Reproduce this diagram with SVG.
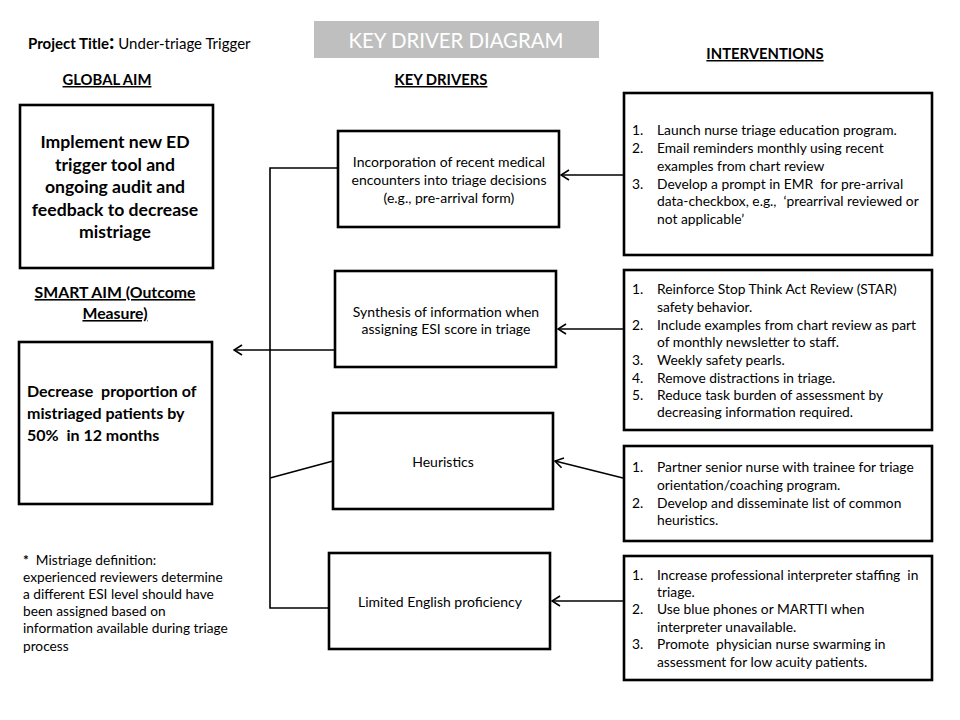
<svg xmlns="http://www.w3.org/2000/svg" width="960" height="720" viewBox="0 0 960 720">
<defs>
<style>
text{font-family:Lato,"Open Sans","Liberation Sans",sans-serif;fill:#000}
.box{fill:#fff;stroke:#000;stroke-width:2.6}
.hdr{font-size:14.8px;font-weight:bold;text-decoration:underline;text-anchor:middle}
.sm{font-size:15.8px;font-weight:bold;text-decoration:underline;text-anchor:middle}
.aim{font-size:17.6px;font-weight:bold;text-anchor:middle}
.smart{font-size:16px;font-weight:bold}
.kd{font-size:14px;text-anchor:middle}
.iv{font-size:13.8px}
.note{font-size:13.7px}
.con{fill:none;stroke:#000;stroke-width:1.6}
</style>
<marker id="ah" viewBox="0 0 10 12" refX="9" refY="6" markerWidth="10" markerHeight="12" markerUnits="userSpaceOnUse" orient="auto">
<path d="M1,1 L9,6 L1,11" fill="none" stroke="#000" stroke-width="1.6"/>
</marker>
</defs>
<rect width="960" height="720" fill="#fff"/>

<g id="header">
<text x="28" y="49" style="font-size:15px" xml:space="preserve"><tspan font-weight="bold">Project Title</tspan><tspan font-weight="bold" font-size="21px">:</tspan> Under-triage Trigger</text>
<rect x="314" y="21" width="285" height="37" fill="#bfbfbf"/>
<text x="456" y="48" style="font-size:20.4px;fill:#fff;text-anchor:middle">KEY DRIVER DIAGRAM</text>
<text class="hdr" x="107" y="85">GLOBAL AIM</text>
<text class="hdr" x="441" y="85">KEY DRIVERS</text>
<text class="hdr" x="765" y="59">INTERVENTIONS</text>
</g>

<g id="global-aim">
<rect class="box" x="20" y="105" width="193" height="163"/>
<text class="aim" x="115" y="148">Implement new ED</text>
<text class="aim" x="115" y="171">trigger tool and</text>
<text class="aim" x="115" y="193">ongoing audit and</text>
<text class="aim" x="115" y="216">feedback to decrease</text>
<text class="aim" x="115" y="238">mistriage</text>
</g>

<g id="smart-aim">
<text class="sm" x="115" y="298">SMART AIM (Outcome</text>
<text class="sm" x="115" y="319">Measure)</text>
<rect class="box" x="19" y="342" width="193" height="162"/>
<text class="smart" x="27" y="397" xml:space="preserve">Decrease  proportion of</text>
<text class="smart" x="27" y="419">mistriaged patients by</text>
<text class="smart" x="27" y="441" xml:space="preserve">50%  in 12 months</text>
</g>

<g id="note">
<text class="note" x="23" y="565" xml:space="preserve"><tspan font-weight="bold">*</tspan>  Mistriage definition:</text>
<text class="note" x="23" y="582">experienced reviewers determine</text>
<text class="note" x="23" y="599">a different ESI level should have</text>
<text class="note" x="23" y="616">been assigned based on</text>
<text class="note" x="23" y="633">information available during triage</text>
<text class="note" x="23" y="651">process</text>
</g>

<g id="kd1">
<rect class="box" x="338" y="131" width="221" height="96"/>
<text class="kd" x="449" y="167">Incorporation of recent medical</text>
<text class="kd" x="449" y="185">encounters into triage decisions</text>
<text class="kd" x="449" y="203">(e.g., pre-arrival form)</text>
</g>
<g id="kd2">
<rect class="box" x="335" y="271" width="221" height="96"/>
<text class="kd" x="446" y="317">Synthesis of information when</text>
<text class="kd" x="446" y="334">assigning ESI score in triage</text>
</g>
<g id="kd3">
<rect class="box" x="333" y="413" width="220" height="96"/>
<text class="kd" x="443" y="467">Heuristics</text>
</g>
<g id="kd4">
<rect class="box" x="329" y="553" width="221" height="96"/>
<text class="kd" x="440" y="607">Limited English proficiency</text>
</g>

<g id="iv1">
<rect class="box" x="624" y="93" width="308" height="162"/>
<text class="iv" x="632" y="135">1.</text><text class="iv" x="657" y="135">Launch nurse triage education program.</text>
<text class="iv" x="632" y="153">2.</text><text class="iv" x="657" y="153">Email reminders monthly using recent</text>
<text class="iv" x="657" y="171">examples from chart review</text>
<text class="iv" x="632" y="189">3.</text><text class="iv" x="657" y="189" xml:space="preserve">Develop a prompt in EMR  for pre-arrival</text>
<text class="iv" x="657" y="206" xml:space="preserve">data-checkbox, e.g.,  ‘prearrival reviewed or</text>
<text class="iv" x="657" y="224">not applicable’</text>
</g>
<g id="iv2">
<rect class="box" x="624" y="270" width="308" height="160"/>
<text class="iv" x="632" y="294">1.</text><text class="iv" x="657" y="294">Reinforce Stop Think Act Review (STAR)</text>
<text class="iv" x="657" y="312">safety behavior.</text>
<text class="iv" x="632" y="330">2.</text><text class="iv" x="657" y="330">Include examples from chart review as part</text>
<text class="iv" x="657" y="347">of monthly newsletter to staff.</text>
<text class="iv" x="632" y="365">3.</text><text class="iv" x="657" y="365">Weekly safety pearls.</text>
<text class="iv" x="632" y="383">4.</text><text class="iv" x="657" y="383">Remove distractions in triage.</text>
<text class="iv" x="632" y="400">5.</text><text class="iv" x="657" y="400">Reduce task burden of assessment by</text>
<text class="iv" x="657" y="417">decreasing information required.</text>
</g>
<g id="iv3">
<rect class="box" x="624" y="446" width="308" height="95"/>
<text class="iv" x="632" y="472">1.</text><text class="iv" x="657" y="472">Partner senior nurse with trainee for triage</text>
<text class="iv" x="657" y="490">orientation/coaching program.</text>
<text class="iv" x="632" y="508">2.</text><text class="iv" x="657" y="508">Develop and disseminate list of common</text>
<text class="iv" x="657" y="525">heuristics.</text>
</g>
<g id="iv4">
<rect class="box" x="624" y="556" width="308" height="124"/>
<text class="iv" x="632" y="580">1.</text><text class="iv" x="657" y="580" xml:space="preserve">Increase professional interpreter staffing  in</text>
<text class="iv" x="657" y="597">triage.</text>
<text class="iv" x="632" y="614">2.</text><text class="iv" x="657" y="614">Use blue phones or MARTTI when</text>
<text class="iv" x="657" y="632">interpreter unavailable.</text>
<text class="iv" x="632" y="649">3.</text><text class="iv" x="657" y="649" xml:space="preserve">Promote  physician nurse swarming in</text>
<text class="iv" x="657" y="667">assessment for low acuity patients.</text>
</g>

<g id="connectors">
<polyline class="con" points="338,168 270,168 270,608 329,608"/>
<line class="con" x1="270" y1="478" x2="333" y2="461"/>
<line class="con" x1="335" y1="350" x2="234" y2="350" marker-end="url(#ah)"/>
<line class="con" x1="623" y1="175" x2="561" y2="175" marker-end="url(#ah)"/>
<line class="con" x1="623" y1="329" x2="558" y2="329" marker-end="url(#ah)"/>
<line class="con" x1="623" y1="478" x2="555" y2="461" marker-end="url(#ah)"/>
<line class="con" x1="623" y1="601" x2="552" y2="601" marker-end="url(#ah)"/>
</g>
</svg>
